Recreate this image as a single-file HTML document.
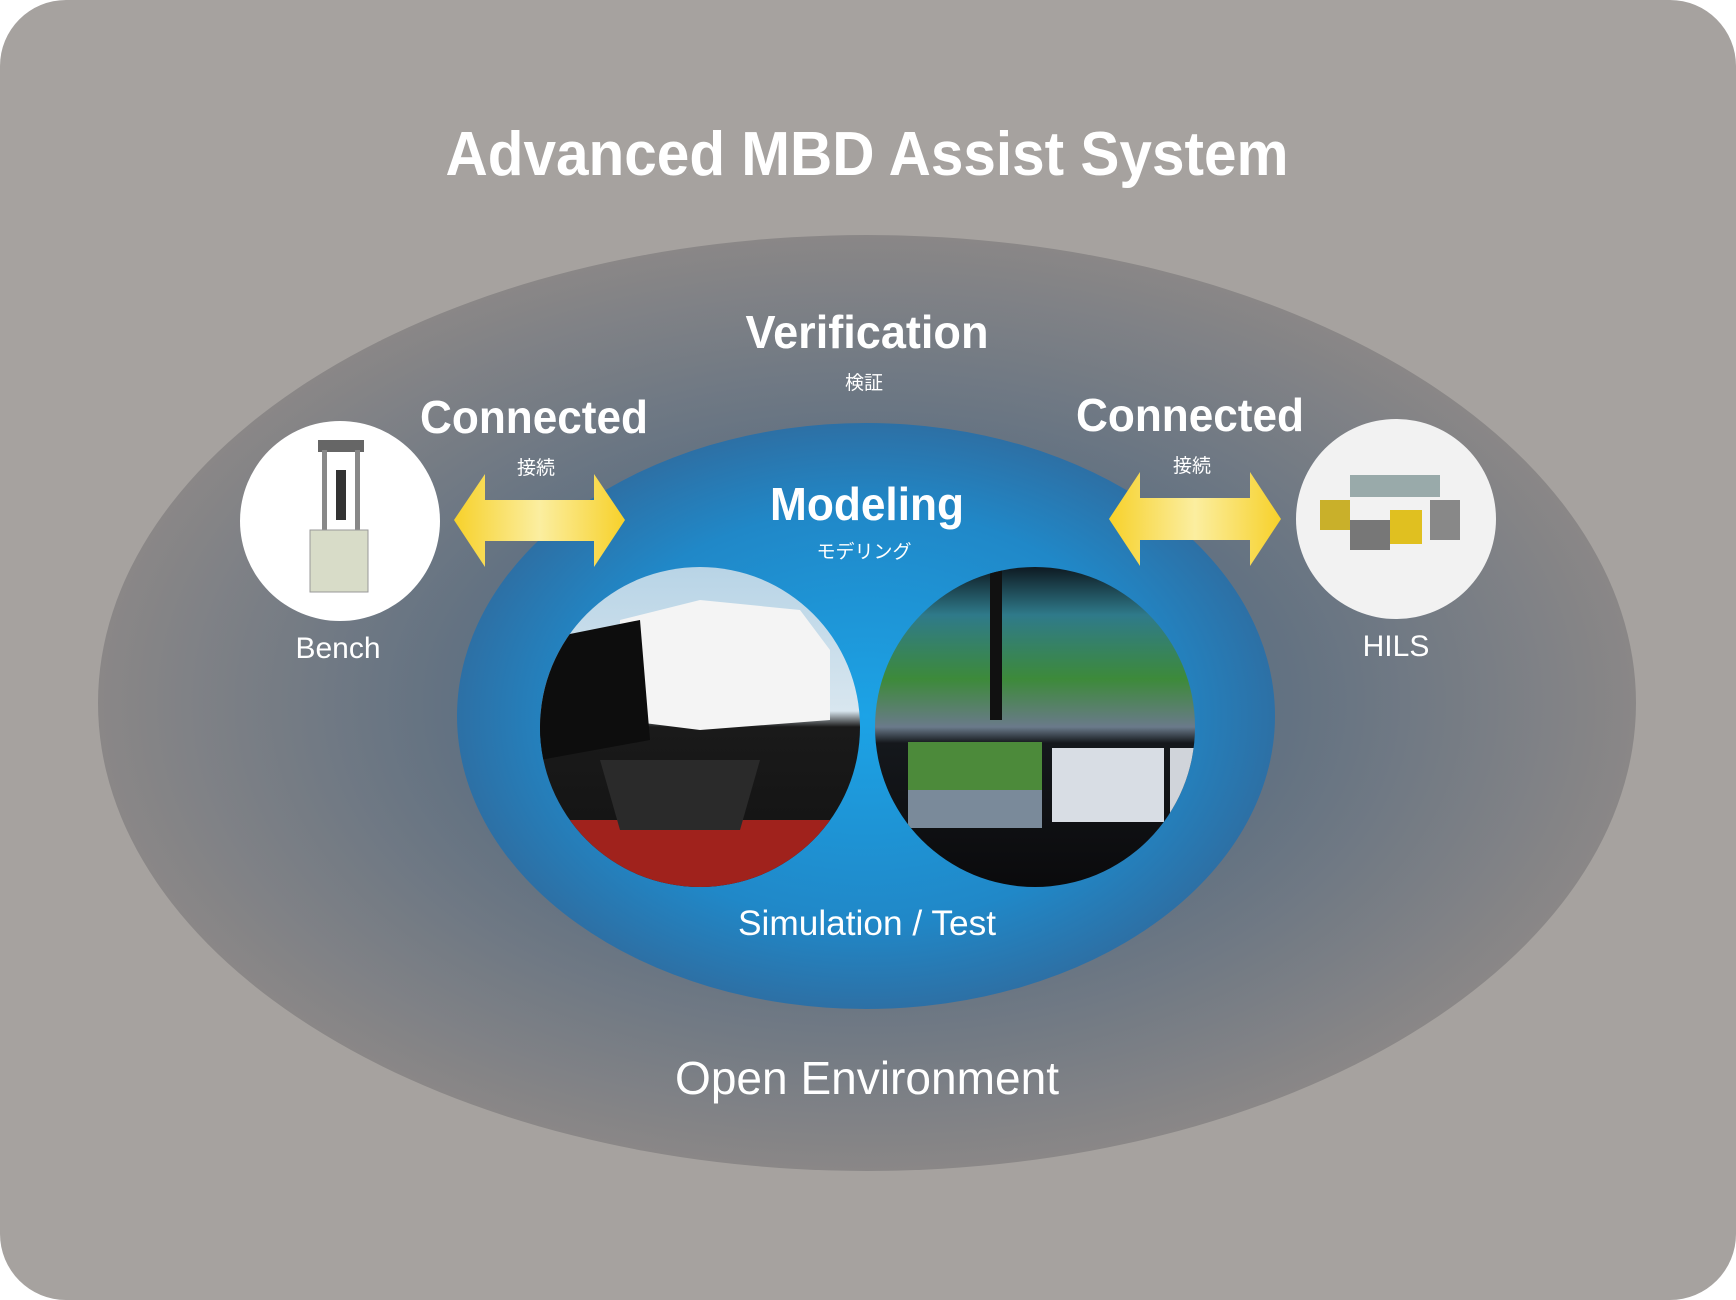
<!DOCTYPE html>
<html><head><meta charset="utf-8"><style>
html,body{margin:0;padding:0;background:#fff}
body{width:1736px;height:1300px;overflow:hidden;font-family:"Liberation Sans","Noto Sans CJK JP",sans-serif}
svg{display:block}
</style></head><body>
<svg width="1736" height="1300" viewBox="0 0 1736 1300" xmlns="http://www.w3.org/2000/svg">
<defs>
<radialGradient id="outer" cx="50%" cy="50%" r="50%">
<stop offset="0" stop-color="#4a6a8a"/><stop offset="0.55" stop-color="#637282"/><stop offset="1" stop-color="#8a8787"/>
</radialGradient>
<radialGradient id="inner" cx="50%" cy="50%" r="50%">
<stop offset="0" stop-color="#1ca3e6"/><stop offset="0.7" stop-color="#2088c8"/><stop offset="1" stop-color="#2d70a5"/>
</radialGradient>
<linearGradient id="arrow" x1="0" y1="0" x2="1" y2="0">
<stop offset="0" stop-color="#f7d12a"/><stop offset="0.5" stop-color="#fbeea0"/><stop offset="1" stop-color="#f7d12a"/>
</linearGradient>
<linearGradient id="p1" x1="0" y1="0" x2="0" y2="1">
<stop offset="0" stop-color="#b8d4e6"/><stop offset="0.45" stop-color="#d8e6ef"/><stop offset="0.5" stop-color="#1a1a1a"/><stop offset="1" stop-color="#111"/>
</linearGradient>
<linearGradient id="p2" x1="0" y1="0" x2="0" y2="1">
<stop offset="0" stop-color="#0e1a22"/><stop offset="0.15" stop-color="#2f7a8a"/><stop offset="0.35" stop-color="#3d8a3a"/><stop offset="0.5" stop-color="#6a7a8a"/><stop offset="0.55" stop-color="#15181c"/><stop offset="1" stop-color="#0a0a0c"/>
</linearGradient>
<clipPath id="c1"><circle cx="700" cy="727" r="160"/></clipPath>
<clipPath id="c2"><circle cx="1035" cy="727" r="160"/></clipPath>
<clipPath id="c3"><circle cx="340" cy="521" r="100"/></clipPath>
<clipPath id="c4"><circle cx="1396" cy="519" r="100"/></clipPath>
</defs>
<rect x="0" y="0" width="1736" height="1300" rx="66" fill="#a6a29f"/>
<ellipse cx="867" cy="703" rx="769" ry="468" fill="url(#outer)"/>
<ellipse cx="866" cy="716" rx="409" ry="293" fill="url(#inner)"/>

<g fill="#fff" text-anchor="middle">
<text x="867" y="175" font-size="62" font-weight="bold" textLength="843" lengthAdjust="spacingAndGlyphs">Advanced MBD Assist System</text>
<text x="867" y="348" font-size="46" font-weight="bold" textLength="243" lengthAdjust="spacingAndGlyphs">Verification</text>
<text x="864" y="389" font-size="19">検証</text>
<text x="534" y="433" font-size="46" font-weight="bold" textLength="228" lengthAdjust="spacingAndGlyphs">Connected</text>
<text x="536" y="474" font-size="19">接続</text>
<text x="1190" y="431" font-size="46" font-weight="bold" textLength="228" lengthAdjust="spacingAndGlyphs">Connected</text>
<text x="1192" y="472" font-size="19">接続</text>
<text x="867" y="520" font-size="46" font-weight="bold" textLength="194" lengthAdjust="spacingAndGlyphs">Modeling</text>
<text x="864" y="558" font-size="19">モデリング</text>
<text x="338" y="658" font-size="30">Bench</text>
<text x="1396" y="656" font-size="30">HILS</text>
<text x="867" y="935" font-size="35" textLength="258" lengthAdjust="spacingAndGlyphs">Simulation / Test</text>
<text x="867" y="1094" font-size="46" textLength="384" lengthAdjust="spacingAndGlyphs">Open Environment</text>
</g>

<polygon points="454,520 485,474 485,500 594,500 594,474 625,520 594,567 594,541 485,541 485,567" fill="url(#arrow)"/>
<polygon points="1109,519 1140,472 1140,498 1250,498 1250,472 1281,519 1250,566 1250,540 1140,540 1140,566" fill="url(#arrow)"/>

<circle cx="340" cy="521" r="100" fill="#fff"/>
<g clip-path="url(#c3)">
<rect x="318" y="440" width="46" height="12" fill="#666"/>
<rect x="322" y="450" width="5" height="80" fill="#888"/>
<rect x="355" y="450" width="5" height="80" fill="#888"/>
<rect x="336" y="470" width="10" height="50" fill="#333"/>
<rect x="310" y="530" width="58" height="62" fill="#d8dcc8" stroke="#999"/>
</g>
<circle cx="1396" cy="519" r="100" fill="#f2f2f2"/>
<g clip-path="url(#c4)">
<rect x="1350" y="475" width="90" height="22" fill="#9aa"/>
<rect x="1320" y="500" width="30" height="30" fill="#c9b02a"/>
<rect x="1390" y="510" width="32" height="34" fill="#e0c020"/>
<rect x="1350" y="520" width="40" height="30" fill="#777"/>
<rect x="1430" y="500" width="30" height="40" fill="#888"/>
</g>

<circle cx="700" cy="727" r="160" fill="url(#p1)"/>
<g clip-path="url(#c1)">
<path d="M620 620 L700 600 L800 610 L830 650 L830 720 L700 730 L620 720 Z" fill="#f4f4f4"/>
<path d="M540 640 L640 620 L650 740 L540 760 Z" fill="#0d0d0d"/>
<rect x="540" y="820" width="320" height="80" fill="#a0221c"/>
<path d="M600 760 L760 760 L740 830 L620 830 Z" fill="#2a2a2a"/>
</g>
<circle cx="1035" cy="727" r="160" fill="url(#p2)"/>
<g clip-path="url(#c2)">
<rect x="908" y="742" width="134" height="86" fill="#4c8a3a"/>
<rect x="908" y="790" width="134" height="38" fill="#7a8a9a"/>
<rect x="1052" y="748" width="112" height="74" fill="#d8dde4"/>
<rect x="1170" y="748" width="30" height="74" fill="#d0d4da"/>
<rect x="990" y="570" width="12" height="150" fill="#111"/>
</g>
</svg>
</body></html>
